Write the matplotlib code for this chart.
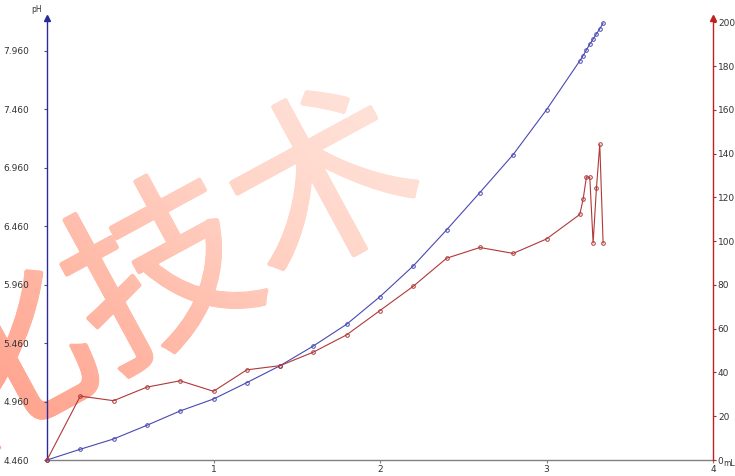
import numpy as np
import matplotlib.pyplot as plt
from matplotlib.textpath import TextPath
from matplotlib.font_manager import FontProperties
from matplotlib.patches import PathPatch
from matplotlib.transforms import Affine2D
from matplotlib.colors import LinearSegmentedColormap

# titration volume (mL)
vol = [0, 0.2, 0.4, 0.6, 0.8, 1.0, 1.2, 1.4, 1.6, 1.8, 2.0, 2.2, 2.4, 2.6, 2.8, 3.0,
       3.2, 3.22, 3.24, 3.26, 3.28, 3.30, 3.32, 3.34]
# pH reading
ph = [4.460, 4.552, 4.640, 4.757, 4.880, 4.982, 5.122, 5.267, 5.436, 5.622, 5.858, 6.121,
      6.429, 6.749, 7.074, 7.457, 7.876, 7.921, 7.970, 8.019, 8.062, 8.107, 8.150, 8.199]
# first derivative (right axis)
deriv = [0, 29.2, 27.1, 33.3, 36.2, 31.4, 41.2, 43.1, 49.3, 57.2, 68.3, 79.4,
         92.2, 97.1, 94.4, 101.0, 112.2, 119.2, 129.4, 129.1, 99.2, 124.3, 144.2, 99.2]

ph_ticks = [4.46 + 0.5 * k for k in range(8)]
d_ticks = list(range(0, 201, 20))
vol_ticks = [1, 2, 3, 4]

W, H = 735, 476
fig = plt.figure(figsize=(W / 100, H / 100), dpi=100)

# watermark behind everything, filled with a soft gradient
bg = fig.add_axes([0, 0, 1, 1], zorder=-5)
bg.set_xlim(0, W)
bg.set_ylim(0, H)
bg.axis('off')
tp = TextPath((0, 0), "化技术", size=185, prop=FontProperties(family='Noto Sans CJK SC'))
ext = tp.get_extents()
cx, cy = (ext.x0 + ext.x1) / 2, (ext.y0 + ext.y1) / 2
gx, gy = np.meshgrid(np.linspace(0, 1, 200), np.linspace(0, 1, 200))
grad = gx * 0.55 + gy * 0.45
cmap = LinearSegmentedColormap.from_list(
    'wm', [(0, '#ff9c86'), (0.3, '#ffbfae'), (0.45, '#ffd5c8'), (0.6, '#ffe0d6'), (1, '#ffe8e0')])
# a few shifted copies make the strokes a little heavier
for dx, dy in [(0, 0), (1.5, 0), (-1.5, 0), (0, 1.5), (0, -1.5), (1, 1), (-1, -1), (1, -1), (-1, 1)]:
    tr = Affine2D().translate(-cx, -cy).rotate_deg(28.5).translate(157 + dx, H - 266 + dy)
    patch = PathPatch(tr.transform_path(tp), facecolor='none', edgecolor='none', transform=bg.transData)
    bg.add_patch(patch)
    im = bg.imshow(grad, extent=[0, W, 0, H], origin='lower', cmap=cmap, aspect='auto', vmin=0, vmax=1)
    im.set_clip_path(patch)

ax = fig.add_axes([47 / W, 16 / H, (713 - 47) / W, (460 - 18) / H])
ax.patch.set_visible(False)
ax2 = ax.twinx()
ax2.patch.set_visible(False)

blue = '#4848b4'
red = '#b03838'

ax.plot(vol, ph, color=blue, lw=0.8, marker='o', ms=2.6, mfc='none', mew=0.7, clip_on=False, zorder=3)
ax2.plot(vol, deriv, color=red, lw=0.8, marker='o', ms=2.6, mfc='none', mew=0.7, clip_on=False, zorder=3)

ax.set_xlim(0, 4)
ax.set_ylim(4.46, 4.46 + 442 / 116.86)
ax2.set_ylim(0, 442 / 2.1885)

ax.spines['top'].set_visible(False)
ax.spines['right'].set_visible(False)
ax.spines['left'].set_color('#2a2a9a')
ax.spines['bottom'].set_color('#808080')
ax2.spines['top'].set_visible(False)
ax2.spines['left'].set_visible(False)
ax2.spines['bottom'].set_visible(False)
ax2.spines['right'].set_color('#c02020')
for s in [ax.spines['left'], ax.spines['bottom'], ax2.spines['right']]:
    s.set_linewidth(1.0)

ax.set_xticks(vol_ticks)
ax.set_xticklabels([str(v) for v in vol_ticks])
ax.set_yticks(ph_ticks)
ax.set_yticklabels(['%.3f' % v for v in ph_ticks])
ax2.set_yticks(d_ticks)
ax2.set_yticklabels([str(v) for v in d_ticks])

ax.tick_params(axis='x', length=2, width=0.8, color='#808080', labelsize=6.5, pad=1.5, labelcolor='#333333')
ax.tick_params(axis='y', length=2, width=0.8, color='#555555', labelsize=6.5, pad=11, labelcolor='#333333')
ax2.tick_params(axis='y', length=2, width=0.8, color='#c02020', labelsize=6.5, pad=1.5, labelcolor='#333333')

# arrow heads on the vertical axes
ax.plot([0], [1], marker='^', ms=4, color='#2a2a9a', transform=ax.transAxes, clip_on=False)
ax2.plot([1], [1], marker='^', ms=4, color='#c02020', transform=ax2.transAxes, clip_on=False)

fig.text(37 / W, 1 - 10 / H, 'pH', fontsize=5.5, ha='center', va='center', color='#333333')
fig.text(729 / W, 1 - 463 / H, 'mL', fontsize=5.5, ha='center', va='center', color='#333333')

fig.savefig('out.png', dpi=100)
